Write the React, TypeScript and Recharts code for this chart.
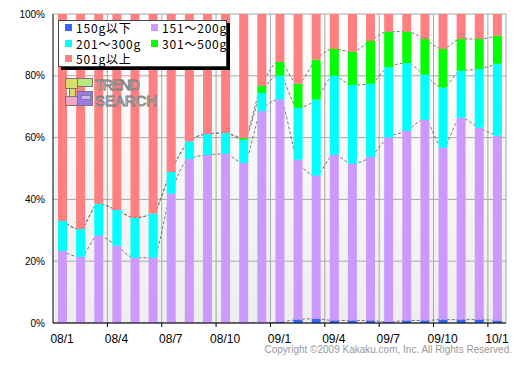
import React from 'react';
import { ComposedChart, Bar, Line, XAxis, YAxis, CartesianGrid } from 'recharts';

const months = [
  '08/1', '08/2', '08/3', '08/4', '08/5', '08/6', '08/7', '08/8', '08/9', '08/10', '08/11', '08/12',
  '09/1', '09/2', '09/3', '09/4', '09/5', '09/6', '09/7', '09/8', '09/9', '09/10', '09/11', '09/12',
  '10/1',
];

const under150 = [0, 0, 0, 0, 0, 0, 0, 0, 0, 0, 0, 0, 0.3, 1.1, 1.4, 0.8, 0.8, 0.8, 0.3, 0.8, 0.8, 1.1, 1.1, 1.1, 0.8];
const w151to200 = [23.3, 21.4, 28.3, 25.0, 21.1, 21.1, 41.8, 53.1, 54.4, 54.7, 51.8, 68.6, 72.0, 51.7, 46.3, 53.6, 50.8, 52.9, 59.7, 61.3, 65.0, 55.6, 65.3, 62.1, 59.8];
const w201to300 = [9.7, 9.0, 10.3, 11.6, 13.0, 14.3, 7.1, 5.6, 6.8, 6.8, 7.5, 5.8, 7.8, 16.9, 24.6, 25.6, 25.4, 23.7, 22.8, 22.0, 14.5, 19.5, 15.2, 19.0, 23.3];
const w301to500 = [0, 0, 0, 0, 0, 0, 0, 0, 0, 0, 0.6, 2.3, 4.4, 7.7, 12.9, 8.7, 10.8, 13.9, 11.5, 10.2, 11.6, 12.5, 10.3, 9.7, 9.1];
const over501 = [67.0, 69.6, 61.4, 63.4, 65.9, 64.6, 51.1, 41.3, 38.8, 38.5, 40.1, 23.3, 15.5, 22.6, 14.8, 11.3, 12.2, 8.7, 5.7, 5.7, 8.1, 11.3, 8.1, 8.1, 7.0];

const yTicks = [0, 20, 40, 60, 80, 100];

const seriesNames = ['150g以下', '151～200g', '201～300g', '301～500g', '501g以上'];
const seriesColors = ['#3366ff', '#cc99ff', '#00ffff', '#00ff00', '#ff8080'];

const data = months.map((m, i) => {
  const a = under150[i];
  const b = w151to200[i];
  const c = w201to300[i];
  const d = w301to500[i];
  const e = over501[i];
  return {
    month: m,
    a, b, c, d, e,
    la: a,
    lb: a + b,
    lc: a + b + c,
    ld: a + b + c + d,
  };
});

const legendOrder = [0, 1, 2, 3, 4];

const LegendBox = () => (
  <div
    style={{
      position: 'absolute',
      left: 58,
      top: 20,
      width: 167,
      height: 45,
      background: '#fff',
      border: '1px solid #444',
      boxShadow: '3px 3px 0 #000',
      fontFamily: '"Noto Sans CJK JP", sans-serif',
      fontSize: 12,
      letterSpacing: 0.8,
      color: '#000',
    }}
  >
    {legendOrder.map((k, idx) => {
      const col = idx % 2;
      const row = Math.floor(idx / 2);
      return (
        <div
          key={k}
          style={{
            position: 'absolute',
            left: 6 + col * 86,
            top: row * 15.5 - 1,
            height: 15,
            display: 'flex',
            alignItems: 'center',
            whiteSpace: 'nowrap',
          }}
        >
          <span style={{ display: 'inline-block', width: 7, height: 7, background: seriesColors[k], marginRight: 4 }} />
          <span style={{ lineHeight: '15px' }}>{seriesNames[k]}</span>
        </div>
      );
    })}
  </div>
);

const Logo = () => (
  <svg width={96} height={32} style={{ position: 'absolute', left: 64, top: 77 }}>
    <rect x={1.5} y={1.5} width={12} height={10} fill="#d8dc6a" stroke="#777" strokeWidth={1} />
    <rect x={5.5} y={11.5} width={6} height={8} fill="#d8dc6a" stroke="#777" strokeWidth={1} />
    <rect x={13.5} y={1.5} width={15} height={8} fill="#b8e87a" stroke="#777" strokeWidth={1} />
    <rect x={1.5} y={19.5} width={12} height={9} fill="#f3a6c4" stroke="#777" strokeWidth={1} />
    <rect x={13.5} y={14.5} width={15} height={14} fill="#9a7ae6" stroke="#777" strokeWidth={1} />
    <rect x={17.5} y={18.5} width={9} height={4} fill="#c9b8f2" stroke="#777" strokeWidth={0.8} />
    <text x={31} y={13} fontFamily="Liberation Sans, sans-serif" fontSize={15} fill="#fff" stroke="#777" strokeWidth={0.9} textLength={45}>TREND</text>
    <text x={31} y={29} fontFamily="Liberation Sans, sans-serif" fontSize={15} fill="#fff" stroke="#777" strokeWidth={0.9} textLength={62}>SEARCH</text>
  </svg>
);

const XTick = (props: any) => {
  const { x, y, payload, index } = props;
  const half = payload && typeof payload.offset === 'number' ? payload.offset : 0;
  const axisY = y - 11;
  return (
    <g>
      {index > 0 && half > 0 && (
        <line x1={x - half} x2={x - half} y1={axisY} y2={axisY + 4} stroke="#000" strokeWidth={1} />
      )}
      <text
        x={x}
        y={y}
        dy="0.71em"
        textAnchor="middle"
        fontSize={12}
        fill="#000"
        fontFamily="Liberation Sans, sans-serif"
      >
        {payload.value}
      </text>
    </g>
  );
};

export default function App() {
  return (
    <div style={{ position: 'absolute', left: 0, top: 0, width: 529, height: 369, background: '#fff', overflow: 'hidden' }}>
      <ComposedChart
        width={529}
        height={369}
        data={data}
        margin={{ top: 14, right: 23, bottom: 0, left: 0 }}
        barCategoryGap={0}
      >
        <defs>
          <linearGradient id="plotBg" x1="0" y1="0" x2="0" y2="1">
            <stop offset="0%" stopColor="#ffffff" />
            <stop offset="100%" stopColor="#eeeeee" />
          </linearGradient>
        </defs>
        <CartesianGrid
          stroke="#a8a8a8"
          fill="url(#plotBg)"
          verticalCoordinatesGenerator={({ offset }: any) =>
            [3, 6, 9, 12, 15, 18, 21, 24, 25].map((i) => offset.left + (offset.width * i) / months.length)
          }
        />
        <XAxis
          dataKey="month"
          interval={2}
          tickLine={false}
          axisLine={{ stroke: '#000' }}
          tick={<XTick />}
          tickSize={6}
          tickMargin={5}
          height={46}
        />
        <YAxis
          domain={[0, 100]}
          allowDataOverflow
          ticks={yTicks}
          tickFormatter={(v: number) => `${v}%`}
          width={53}
          tickLine={false}
          axisLine={{ stroke: '#000' }}
          tick={{ fontSize: 10, fill: '#000', fontFamily: 'Liberation Sans, sans-serif' }}
        />
        {(['la', 'lb', 'lc', 'ld'] as const).map((k) => (
          <Line
            key={k}
            dataKey={k}
            type="monotone"
            stroke="#777"
            strokeWidth={1}
            strokeDasharray="3 2"
            dot={false}
            activeDot={false}
            legendType="none"
            isAnimationActive={false}
            zIndex={250}
          />
        ))}
        <Bar dataKey="a" stackId="s" fill={seriesColors[0]} barSize={9} isAnimationActive={false} name={seriesNames[0]} />
        <Bar dataKey="b" stackId="s" fill={seriesColors[1]} barSize={9} isAnimationActive={false} name={seriesNames[1]} />
        <Bar dataKey="c" stackId="s" fill={seriesColors[2]} barSize={9} isAnimationActive={false} name={seriesNames[2]} />
        <Bar dataKey="d" stackId="s" fill={seriesColors[3]} barSize={9} isAnimationActive={false} name={seriesNames[3]} />
        <Bar dataKey="e" stackId="s" fill={seriesColors[4]} barSize={9} isAnimationActive={false} name={seriesNames[4]} />
      </ComposedChart>
      <LegendBox />
      <Logo />
      <div
        style={{
          position: 'absolute',
          right: 17,
          top: 344,
          fontFamily: 'Liberation Sans, sans-serif',
          fontSize: 10,
          color: '#999',
          whiteSpace: 'nowrap',
        }}
      >
        Copyright ©2009 Kakaku.com, Inc. All Rights Reserved.
      </div>
    </div>
  );
}
